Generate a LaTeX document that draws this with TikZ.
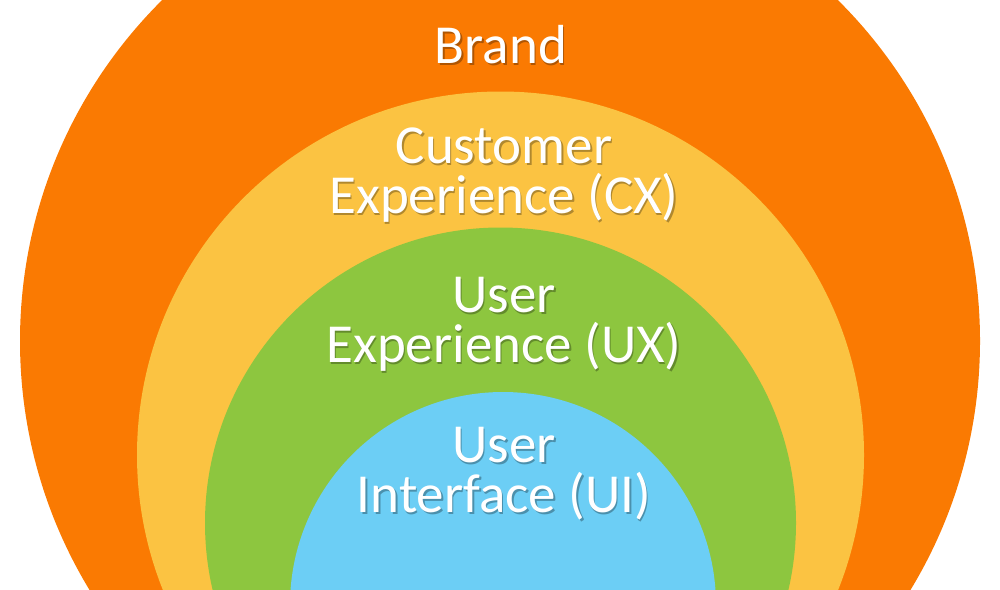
\documentclass[tikz,border=0pt]{standalone}
\usepackage{fontspec}
\setmainfont{Carlito}
\usepackage{tikz}
\usetikzlibrary{positioning}

\definecolor{brandorange}{RGB}{250,122,2}
\definecolor{cxyellow}{RGB}{251,195,66}
\definecolor{uxgreen}{RGB}{141,198,63}
\definecolor{uiblue}{RGB}{108,206,245}

% text with a soft offset shadow
\newcommand{\shtext}[2]{\makebox[0pt][l]{\hspace*{1.5pt}\raisebox{-2pt}{\textcolor{#1}{#2}}}#2}

\begin{document}
\begin{tikzpicture}[x=1pt,y=-1pt,
    lbl/.style={text=white, align=center, anchor=base, inner sep=0pt,
        font=\fontsize{55}{50}\selectfont}]
    \useasboundingbox (0,0) rectangle (1000,589);
    \clip (0,0) rectangle (1000,589);

    \fill[brandorange] (500,341) circle (480pt);
    \fill[cxyellow] (500.5,455) circle (363.5pt);
    \fill[uxgreen] (500.5,523) circle (295.5pt);
    \fill[uiblue] (503,605) circle (213pt);

    % base anchor sits on the last line
    \node[lbl] (brand) at (501,63) {\shtext{brandorange!70!black}{Brand}};
    \node[lbl] (cx) at (504,213) {\shtext{cxyellow!70!black}{Customer}\\\shtext{cxyellow!70!black}{Experience (CX)}};
    \node[lbl] (ux) at (504,362) {\shtext{uxgreen!70!black}{User}\\\shtext{uxgreen!70!black}{Experience (UX)}};
    \node[lbl] (ui) at (504,512) {\shtext{uiblue!70!black}{User}\\\shtext{uiblue!70!black}{Interface (UI)}};
\end{tikzpicture}
\end{document}
